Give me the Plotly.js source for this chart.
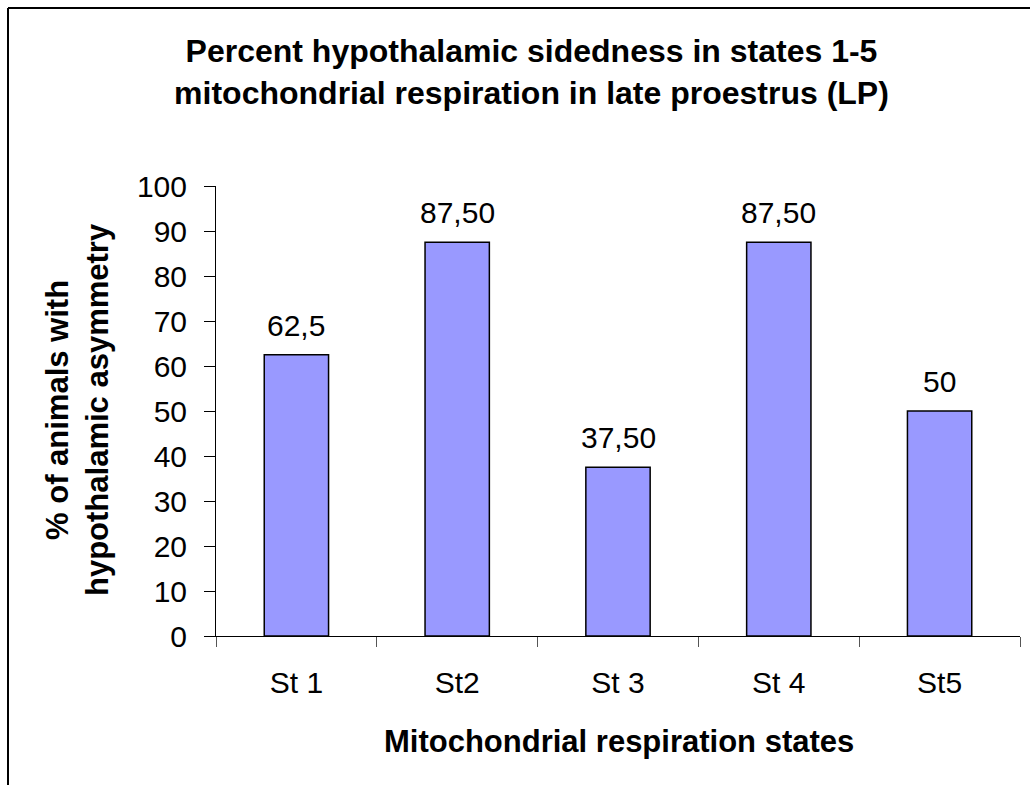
<!DOCTYPE html>
<html>
<head>
<meta charset="utf-8">
<script src="https://cdn.plot.ly/plotly-3.0.1.min.js"></script>
<style>html,body{margin:0;padding:0;background:#fff;}#chart{width:1030px;height:785px;}</style>
</head>
<body>
<div id="chart"></div>
<script>
const categories = ["St 1", "St2", "St 3", "St 4", "St5"];
const values = [62.5, 87.5, 37.5, 87.5, 50];
const valueLabels = ["62,5", "87,50", "37,50", "87,50", "50"];
const yTicks = [0, 10, 20, 30, 40, 50, 60, 70, 80, 90, 100];

const FONT = "Liberation Sans, Arial, sans-serif";
const L = 216, R = 10, T = 186, B = 149, W = 1030, H = 785;
const pw = W - L - R, ph = H - T - B;
const px = v => (v - L) / pw;
const py = v => (H - B - v) / ph;

const trace = {
  type: "bar",
  x: categories,
  y: values,
  marker: {color: "#9999FF", line: {color: "#000000", width: 1.5}},
  hoverinfo: "x+y"
};

const labelAnns = categories.map((c, i) => ({
  x: c, y: values[i], xref: "x", yref: "y",
  text: valueLabels[i], showarrow: false,
  yanchor: "bottom", yshift: 11,
  font: {family: FONT, size: 30, color: "#000"}
}));

const layout = {
  width: W, height: H,
  margin: {l: L, r: R, t: T, b: B, pad: 0},
  paper_bgcolor: "#fff", plot_bgcolor: "#fff",
  showlegend: false,
  bargap: 0.6,
  title: {
    text: "<b>Percent hypothalamic sidedness in states 1-5<br>mitochondrial respiration in late proestrus (LP)</b>",
    font: {family: FONT, size: 32, color: "#000"},
    x: 0.516, xref: "container", xanchor: "center",
    y: 1 - 62 / 785, yref: "container", yanchor: "middle"
  },
  xaxis: {
    type: "category",
    showline: true, linecolor: "#000", linewidth: 1,
    ticks: "outside", tickson: "boundaries", ticklen: 10, tickcolor: "#555", tickwidth: 1,
    tickfont: {family: FONT, size: 30, color: "#000"},
    ticklabelstandoff: 20,
    showgrid: false, zeroline: false,
    range: [-0.5, 4.5], fixedrange: true
  },
  yaxis: {
    range: [0, 100],
    tickvals: yTicks,
    showline: true, linecolor: "#000", linewidth: 1,
    ticks: "outside", ticklen: 11, tickcolor: "#000", tickwidth: 1,
    tickfont: {family: FONT, size: 30, color: "#000"},
    ticklabelstandoff: 11,
    showgrid: false, zeroline: false, fixedrange: true
  },
  annotations: labelAnns.concat([
    {
      text: "<b>Mitochondrial respiration states</b>",
      xref: "paper", yref: "paper", x: px(619), y: py(741),
      xanchor: "center", yanchor: "middle", showarrow: false,
      font: {family: FONT, size: 31, color: "#000"}
    },
    {
      text: "<b>% of animals with<br>hypothalamic asymmetry</b>",
      xref: "paper", yref: "paper", x: px(77), y: py(410),
      xanchor: "center", yanchor: "middle", showarrow: false, textangle: -90,
      font: {family: FONT, size: 31, color: "#000"}
    }
  ]),
  shapes: [
    {type: "line", xref: "paper", yref: "paper", x0: px(8), x1: px(1032), y0: py(8), y1: py(8), line: {color: "#000", width: 2}},
    {type: "line", xref: "paper", yref: "paper", x0: px(8), x1: px(8), y0: py(8), y1: py(790), line: {color: "#000", width: 2}}
  ]
};

Plotly.newPlot("chart", [trace], layout, {displayModeBar: false, staticPlot: true});
</script>
</body>
</html>
